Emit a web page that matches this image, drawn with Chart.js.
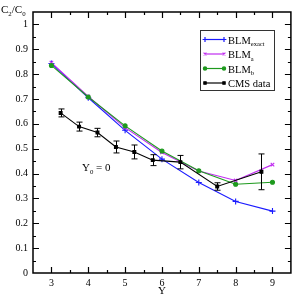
<!DOCTYPE html>
<html>
<head>
<meta charset="utf-8">
<script src="https://cdn.jsdelivr.net/npm/chart.js@4.4.1/dist/chart.umd.min.js"></script>
<style>
  html, body { margin: 0; padding: 0; background: #fff; }
  #wrap { width: 296px; height: 297px; }
</style>
</head>
<body>
<div id="wrap"><canvas id="c" width="296" height="297"></canvas></div>
<script>
"use strict";

// rapidity values of the model curves
const modelY = [3, 4, 5, 6, 7, 8, 9];
const blmExact = [0.843, 0.705, 0.574, 0.458, 0.364, 0.288, 0.249];
const blmA = [0.846, 0.710, 0.585, 0.485, 0.410, 0.372, 0.436];
const blmB = [0.835, 0.708, 0.592, 0.491, 0.411, 0.357, 0.365];

// CMS points with their errors
const cmsY = [3.25, 3.75, 4.25, 4.75, 5.25, 5.75, 6.5, 7.5, 8.7];
const cmsRatio = [0.644, 0.589, 0.565, 0.507, 0.487, 0.454, 0.446, 0.348, 0.407];
const cmsErr = [0.016, 0.018, 0.017, 0.024, 0.028, 0.022, 0.027, 0.015, 0.072];

const SERIF = "'Liberation Serif', 'DejaVu Serif', serif";
const toXY = (xs, ys) => xs.map((x, i) => ({ x, y: ys[i] }));

// text with subscripts: parts = [[text, isSub], ...]
const drawParts = (ctx, x, y, parts, size) => {
  ctx.textBaseline = "alphabetic";
  ctx.textAlign = "left";
  parts.forEach(([t, sub]) => {
    const s = sub ? size * 0.62 : size;
    ctx.font = s + "px " + SERIF;
    ctx.fillText(t, x, y + (sub ? size * 0.28 : 0));
    x += ctx.measureText(t).width;
  });
  return x;
};

const legendItems = [
  { idx: 0, parts: [["BLM", false], ["exact", true]] },
  { idx: 1, parts: [["BLM", false], ["a", true]] },
  { idx: 2, parts: [["BLM", false], ["b", true]] },
  { idx: 3, parts: [["CMS data", false]] }
];

const framePlugin = {
  id: "frame",
  afterDatasetsDraw(chart) {
    const { ctx, chartArea: a, scales } = chart;
    const xs = scales.x, ys = scales.y;
    ctx.save();

    // error bars for CMS
    ctx.strokeStyle = "#000";
    ctx.lineWidth = 1;
    cmsY.forEach((xv, i) => {
      const px = Math.round(xs.getPixelForValue(xv)) + 0.5;
      const y1 = ys.getPixelForValue(cmsRatio[i] + cmsErr[i]);
      const y2 = ys.getPixelForValue(cmsRatio[i] - cmsErr[i]);
      ctx.beginPath();
      ctx.moveTo(px, y1); ctx.lineTo(px, y2);
      ctx.moveTo(px - 3, y1); ctx.lineTo(px + 3, y1);
      ctx.moveTo(px - 3, y2); ctx.lineTo(px + 3, y2);
      ctx.stroke();
    });

    // frame and inward ticks on all four sides
    ctx.strokeStyle = "#000";
    ctx.lineWidth = 1.5;
    ctx.strokeRect(a.left, a.top, a.right - a.left, a.bottom - a.top);
    ctx.lineWidth = 1.2;
    ctx.beginPath();
    xs.ticks.forEach(t => {
      const px = Math.round(xs.getPixelForValue(t.value)) + 0.5;
      if (px <= a.left + 1 || px >= a.right - 1) return;
      const len = Number.isInteger(t.value) ? 6 : 3;
      ctx.moveTo(px, a.bottom); ctx.lineTo(px, a.bottom - len);
      ctx.moveTo(px, a.top); ctx.lineTo(px, a.top + len);
    });
    ys.ticks.forEach(t => {
      const py = Math.round(ys.getPixelForValue(t.value)) + 0.5;
      if (py <= a.top + 1 || py >= a.bottom - 1) return;
      const len = Math.round(t.value * 100) % 10 === 0 ? 6 : 3;
      ctx.moveTo(a.left, py); ctx.lineTo(a.left + len, py);
      ctx.moveTo(a.right, py); ctx.lineTo(a.right - len, py);
    });
    ctx.stroke();

    // titles and annotation
    ctx.fillStyle = "#000";
    drawParts(ctx, 1, 13, [["C", false], ["2", true], ["/C", false], ["0", true]], 11);
    ctx.font = "11px " + SERIF;
    ctx.textAlign = "center";
    ctx.textBaseline = "alphabetic";
    ctx.fillText("Y", (a.left + a.right) / 2, 294);
    drawParts(ctx, 82, 171, [["Y", false], ["0", true], [" = 0", false]], 11);

    // legend
    const lx = 200, ly = 30, lw = 74, lh = 60;
    ctx.fillStyle = "#fff";
    ctx.fillRect(lx, ly, lw, lh);
    ctx.strokeStyle = "#333";
    ctx.lineWidth = 1;
    ctx.strokeRect(lx + 0.5, ly + 0.5, lw, lh);
    legendItems.forEach((item, k) => {
      const ds = chart.data.datasets[item.idx];
      const yy = ly + 9.5 + k * 14.5;
      ctx.strokeStyle = ds.borderColor;
      ctx.lineWidth = 1.2;
      ctx.beginPath();
      ctx.moveTo(205, yy); ctx.lineTo(224, yy);
      ctx.stroke();
      [205, 224].forEach(px => {
        Chart.helpers.drawPoint(ctx, {
          pointStyle: ds.pointStyle, radius: ds.pointRadius * 0.8, borderWidth: 1.2
        }, px, yy);
        if (ds.pointStyle === "circle" || ds.pointStyle === "rect") {
          ctx.fillStyle = ds.pointBackgroundColor;
          ctx.fill();
        }
      });
      ctx.fillStyle = "#000";
      drawParts(ctx, 228, yy + 4, item.parts, 10.5);
    });
    ctx.restore();
  }
};

const lineSet = (label, data, color, style, radius, order) => ({
  label, data,
  showLine: true,
  borderColor: color,
  backgroundColor: color,
  borderWidth: 1.1,
  pointStyle: style,
  pointRadius: radius,
  pointBorderColor: color,
  pointBackgroundColor: color,
  pointBorderWidth: 1.1,
  order
});

new Chart(document.getElementById("c"), {
  type: "scatter",
  data: {
    datasets: [
      lineSet("BLM exact", toXY(modelY, blmExact), "#1a1aff", "cross", 3, 4),
      lineSet("BLM a", toXY(modelY, blmA), "#c02cf0", "crossRot", 2.5, 3),
      lineSet("BLM b", toXY(modelY, blmB), "#1e9a1e", "circle", 2, 2),
      lineSet("CMS data", toXY(cmsY, cmsRatio), "#000000", "rect", 2, 1)
    ]
  },
  options: {
    responsive: false,
    animation: false,
    layout: { padding: { top: 12, right: 2, left: 0, bottom: 0 } },
    plugins: { legend: { display: false }, tooltip: { enabled: false } },
    scales: {
      x: {
        type: "linear", min: 2.5, max: 9.5,
        grid: { display: false, drawTicks: false },
        border: { display: false },
        ticks: {
          stepSize: 0.5, autoSkip: false, maxRotation: 0, padding: 4,
          color: "#000", font: { family: SERIF, size: 10 },
          callback: v => Number.isInteger(v) ? String(v) : ""
        },
        afterFit: s => { s.height = 24; }
      },
      y: {
        min: 0, max: 1.05,
        grid: { display: false, drawTicks: false },
        border: { display: false },
        ticks: {
          stepSize: 0.05, autoSkip: false, padding: 5,
          color: "#000", font: { family: SERIF, size: 10 },
          callback: v => Math.round(v * 100) % 10 === 0 ? String(Math.round(v * 10) / 10) : ""
        },
        afterFit: s => { s.width = 33; }
      }
    }
  },
  plugins: [framePlugin]
});
</script>
</body>
</html>
